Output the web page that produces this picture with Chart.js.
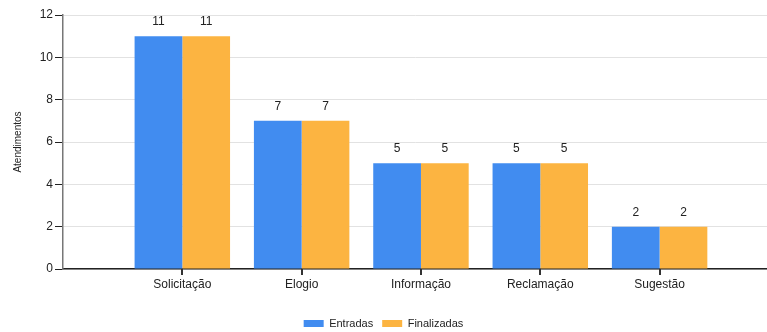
<!DOCTYPE html>
<html>
<head>
<meta charset="utf-8">
<script src="https://cdn.jsdelivr.net/npm/chart.js@4/dist/chart.umd.min.js"></script>
<style>
  html, body { margin: 0; padding: 0; background: #fff; }
  #wrap { width: 767px; height: 332px; }
</style>
</head>
<body>
<div id="wrap"><canvas id="chart"></canvas></div>
<script>
const categories = ['Solicitação', 'Elogio', 'Informação', 'Reclamação', 'Sugestão'];
const entradas = [11, 7, 5, 5, 2];
const finalizadas = [11, 7, 5, 5, 2];
const yTicks = [0, 2, 4, 6, 8, 10, 12];

// categories sit at x = 1..5 on a linear axis so the left side keeps its empty slot
const toPoints = vals => vals.map((v, i) => ({ x: i + 1, y: v }));

Chart.defaults.font.family = 'Liberation Sans, Arial, sans-serif';
Chart.defaults.color = '#222';

// value above each bar, plus the small tick marks under the category axis
const barDecor = {
  id: 'barDecor',
  afterDatasetsDraw(chart) {
    const ctx = chart.ctx;
    const xs = chart.scales.x;
    const base = Math.round(chart.chartArea.bottom);
    ctx.save();
    ctx.font = '12px Liberation Sans, Arial, sans-serif';
    ctx.fillStyle = '#222';
    ctx.textAlign = 'center';
    ctx.textBaseline = 'bottom';
    chart.data.datasets.forEach((ds, di) => {
      chart.getDatasetMeta(di).data.forEach((bar, i) => {
        ctx.fillText(ds.data[i].y, bar.x, bar.y - 8);
      });
    });
    ctx.fillStyle = '#333';
    for (let i = 0; i < categories.length; i++) {
      const px = Math.round(xs.getPixelForValue(i + 1));
      ctx.fillRect(px - 1, base, 2, 6);
    }
    ctx.restore();
  }
};

new Chart(document.getElementById('chart'), {
  type: 'bar',
  data: {
    datasets: [
      { label: 'Entradas', data: toPoints(entradas), backgroundColor: '#418CF0', categoryPercentage: 0.8, barPercentage: 1 },
      { label: 'Finalizadas', data: toPoints(finalizadas), backgroundColor: '#FCB441', categoryPercentage: 0.8, barPercentage: 1 }
    ]
  },
  options: {
    responsive: true,
    maintainAspectRatio: false,
    animation: false,
    layout: { padding: { top: 15, right: 0, left: 0, bottom: -7 } },
    plugins: {
      legend: {
        position: 'bottom',
        labels: { boxWidth: 20, boxHeight: 7, font: { size: 11 }, padding: 9 }
      },
      tooltip: { enabled: false }
    },
    scales: {
      x: {
        type: 'linear',
        offset: false,
        min: 0,
        max: 5.9,
        afterBuildTicks(scale) {
          scale.ticks = categories.map((c, i) => ({ value: i + 1 }));
        },
        afterFit(scale) { scale.height = 40; },
        ticks: {
          callback: v => categories[v - 1] || '',
          font: { size: 12 },
          padding: 8,
          maxRotation: 0
        },
        grid: { offset: false, drawOnChartArea: false, drawTicks: false },
        border: { color: '#222', width: 1.5 }
      },
      y: {
        min: 0,
        max: 12,
        afterBuildTicks(scale) {
          scale.ticks = yTicks.map(v => ({ value: v }));
        },
        afterFit(scale) { scale.width = 63; },
        ticks: { font: { size: 12 }, padding: 2 },
        grid: { color: '#e2e2e2', tickColor: '#222', tickLength: 8 },
        border: { color: '#777', width: 1.5 },
        title: { display: true, text: 'Atendimentos', font: { size: 10 }, padding: { top: 12, bottom: 0 } }
      }
    }
  },
  plugins: [barDecor]
});
</script>
</body>
</html>
